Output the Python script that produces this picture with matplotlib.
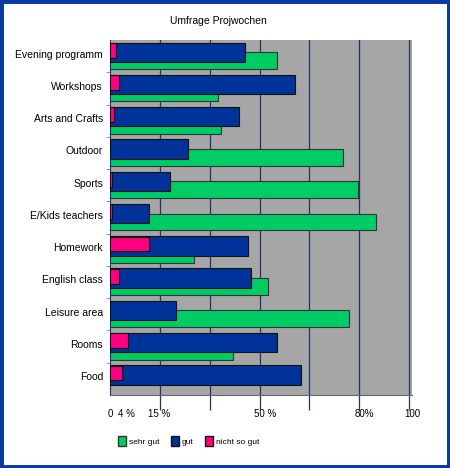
import numpy as np
import matplotlib
matplotlib.use("Agg")
import matplotlib.pyplot as plt
from matplotlib.patches import Rectangle, Patch

plt.rcParams['font.family'] = ['Liberation Sans', 'DejaVu Sans']

# data (percent of axis width)
categories = ["Evening programm", "Workshops", "Arts and Crafts", "Outdoor", "Sports",
              "E/Kids teachers", "Homework", "English class", "Leisure area", "Rooms", "Food"]
sehr_gut = [56, 36, 37, 78, 83, 89, 28, 53, 80, 41, 0]
gut = [45, 62, 43, 26, 20, 13, 46, 47, 22, 56, 64]
nicht_so_gut = [2, 3, 1.3, 0, 0.7, 0.7, 13, 3, 0, 6, 4]

tick_pos = [0, 5.5, 16.5, 52, 85, 101]
tick_labels = ["0", "4 %", "15 %", "50 %", "80%", "100"]

green = "#00cc66"
blue = "#003399"
pink = "#ff0080"
grid_col = "#1f3570"

fig = plt.figure(figsize=(4.5, 4.68), dpi=100)
ax = fig.add_axes([110 / 450, 1 - 395 / 468, 302 / 450, 355 / 468])
ax.set_facecolor("#a6a6a6")

y = np.arange(len(categories))
ax.barh(y + 0.64, sehr_gut, height=0.52, color=green, edgecolor="#333333", linewidth=0.8, zorder=2)
ax.barh(y + 0.38, gut, height=0.6, color=blue, edgecolor="#111111", linewidth=0.8, zorder=3)
ax.barh(y + 0.32, nicht_so_gut, height=0.46, color=pink, edgecolor="#111111", linewidth=0.8, zorder=4)

ax.set_xlim(0, 100)
ax.set_ylim(len(categories), 0)

# gridlines every sixth of the axis
grid_x = np.linspace(0, 100, 7)[1:]
for gx in grid_x:
    ax.axvline(gx, color=grid_col, linewidth=0.9, zorder=1)

ax.set_xticks(tick_pos)
ax.set_xticklabels(tick_labels, fontsize=7)
ax.tick_params(axis="x", length=0, pad=10)
ax.set_xticks(np.linspace(0, 100, 7), minor=True)
ax.tick_params(axis="x", which="minor", length=11, color=grid_col, width=0.9)

ax.set_yticks(y + 0.42)
ax.set_yticklabels(categories, fontsize=7.5)
ax.tick_params(axis="y", length=0, pad=5)
ax.set_yticks(np.arange(1, len(categories)), minor=True)
ax.tick_params(axis="y", which="minor", length=3, color="#888888")

for s in ["top", "right"]:
    ax.spines[s].set_visible(False)
ax.spines["left"].set_color(grid_col)
ax.spines["bottom"].set_color("#666666")

fig.text(0.485, 1 - 21 / 468, "Umfrage Projwochen", ha="center", va="center", fontsize=7.5)

handles = [Patch(facecolor=green, edgecolor="#333333", label="sehr gut"),
           Patch(facecolor=blue, edgecolor="#111111", label="gut"),
           Patch(facecolor=pink, edgecolor="#111111", label="nicht so gut")]
fig.legend(handles=handles, ncol=3, loc="center left", bbox_to_anchor=(0.245, 1 - 441 / 468),
           frameon=False, fontsize=6, handlelength=1.0, handleheight=1.6,
           handletextpad=0.3, columnspacing=1.4)

fig.patches.append(Rectangle((0, 0), 1, 1, transform=fig.transFigure, fill=False,
                             edgecolor="#0a3aa0", linewidth=5, zorder=10))

fig.savefig("out.png", dpi=100)
